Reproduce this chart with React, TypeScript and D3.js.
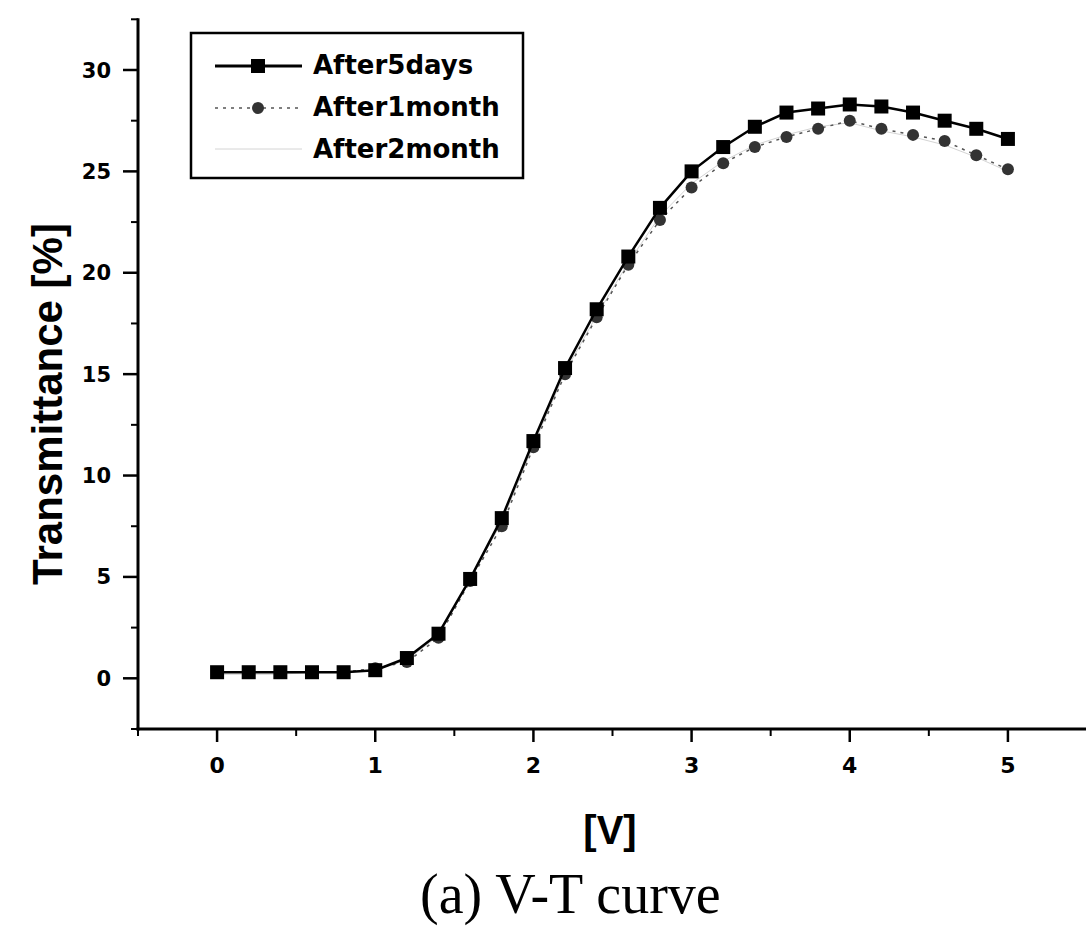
import React from "react";
import * as d3 from "d3";

const voltages = [0, 0.2, 0.4, 0.6, 0.8, 1.0, 1.2, 1.4, 1.6, 1.8, 2.0, 2.2, 2.4, 2.6, 2.8, 3.0, 3.2, 3.4, 3.6, 3.8, 4.0, 4.2, 4.4, 4.6, 4.8, 5.0];
const after5days = [0.3, 0.3, 0.3, 0.3, 0.3, 0.4, 1.0, 2.2, 4.9, 7.9, 11.7, 15.3, 18.2, 20.8, 23.2, 25.0, 26.2, 27.2, 27.9, 28.1, 28.3, 28.2, 27.9, 27.5, 27.1, 26.6];
const after1month = [0.3, 0.3, 0.3, 0.3, 0.3, 0.5, 0.8, 2.0, 4.8, 7.5, 11.4, 15.0, 17.8, 20.4, 22.6, 24.2, 25.4, 26.2, 26.7, 27.1, 27.5, 27.1, 26.8, 26.5, 25.8, 25.1];
const after2month = [0.2, 0.2, 0.2, 0.3, 0.3, 0.4, 0.9, 2.1, 4.9, 7.7, 11.5, 15.1, 17.9, 20.5, 22.8, 24.4, 25.5, 26.3, 26.8, 27.2, 27.4, 27.0, 26.7, 26.3, 25.7, 25.0];
const seriesNames = ["After5days", "After1month", "After2month"];
const xMajorTicks = [0, 1, 2, 3, 4, 5];
const yMajorTicks = [0, 5, 10, 15, 20, 25, 30];
const xDomain = [-0.5, 5.5];
const yDomain = [-2.5, 32.5];

const W = 1086;
const H = 929;
const X0 = 138;
const X1 = 1087;
const Y0 = 729;
const Y1 = 19.3;

export default function App() {
  const x = d3.scaleLinear().domain(xDomain).range([X0, X1]);
  const y = d3.scaleLinear().domain(yDomain).range([Y0, Y1]);
  const line = d3.line<[number, number]>().x((d) => x(d[0])).y((d) => y(d[1]));
  const pts = (vals: number[]) => voltages.map((v, i) => [v, vals[i]] as [number, number]);

  const xMinor = d3.range(xDomain[0], xDomain[1] + 0.001, 0.5).filter((v) => !xMajorTicks.includes(v));
  const yMinor = d3.range(yDomain[0], yDomain[1] + 0.001, 2.5).filter((v) => !yMajorTicks.includes(v));

  const tickFont = "'DejaVu Sans', sans-serif";
  const labelFont = "'Liberation Sans', Arial, sans-serif";

  return (
    <svg width={W} height={H} style={{ position: "absolute", left: 0, top: 0, background: "#fff" }}>
      <rect x={0} y={0} width={W} height={H} fill="#fff" />
      {/* series */}
      <path d={line(pts(after2month)) || ""} fill="none" stroke="#d4d4d4" strokeWidth={1} />
      <path d={line(pts(after1month)) || ""} fill="none" stroke="#555" strokeWidth={1.5} strokeDasharray="3,5" />
      {pts(after1month).map((d, i) => (
        <circle key={"c" + i} cx={x(d[0])} cy={y(d[1])} r={6} fill="#333" />
      ))}
      <path d={line(pts(after5days)) || ""} fill="none" stroke="#000" strokeWidth={2.5} />
      {pts(after5days).map((d, i) => (
        <rect key={"s" + i} x={x(d[0]) - 7} y={y(d[1]) - 7} width={14} height={14} fill="#000" />
      ))}

      {/* axes */}
      <line x1={X0} x2={X0} y1={Y1 - 1} y2={Y0 + 1.5} stroke="#000" strokeWidth={3} />
      <line x1={X0 - 1.5} x2={X1} y1={Y0} y2={Y0} stroke="#000" strokeWidth={3} />
      {yMajorTicks.map((t) => (
        <g key={"ym" + t}>
          <line x1={X0 - 15} x2={X0} y1={y(t)} y2={y(t)} stroke="#000" strokeWidth={2.5} />
          <text x={X0 - 27} y={y(t)} dy="0.36em" textAnchor="end" fontFamily={tickFont} fontWeight="bold" fontSize={21}>
            {t}
          </text>
        </g>
      ))}
      {yMinor.map((t) => (
        <line key={"yn" + t} x1={X0 - 7} x2={X0} y1={y(t)} y2={y(t)} stroke="#000" strokeWidth={2} />
      ))}
      {xMajorTicks.map((t) => (
        <g key={"xm" + t}>
          <line x1={x(t)} x2={x(t)} y1={Y0} y2={Y0 + 13} stroke="#000" strokeWidth={2.5} />
          <text x={x(t)} y={Y0 + 44} textAnchor="middle" fontFamily={tickFont} fontWeight="bold" fontSize={22}>
            {t}
          </text>
        </g>
      ))}
      {xMinor.map((t) => (
        <line key={"xn" + t} x1={x(t)} x2={x(t)} y1={Y0} y2={Y0 + 7} stroke="#000" strokeWidth={2} />
      ))}

      {/* axis titles */}
      <text
        transform={`translate(62,404) rotate(-90)`}
        textAnchor="middle"
        fontFamily={labelFont}
        fontWeight="bold"
        fontSize={42}
      >
        Transmittance [%]
      </text>
      <text x={610} y={844} textAnchor="middle" fontFamily={labelFont} fontWeight="bold" fontSize={40}>
        [V]
      </text>
      <text x={420} y={913} fontFamily="'Liberation Serif', 'Times New Roman', serif" fontSize={56}>
        (a) V-T curve
      </text>

      {/* legend */}
      <rect x={191} y={33} width={332} height={145} fill="#fff" stroke="#000" strokeWidth={2.5} />
      <line x1={215} x2={302} y1={66} y2={66} stroke="#000" strokeWidth={3} />
      <rect x={251} y={59} width={14} height={14} fill="#000" />
      <line x1={215} x2={302} y1={108} y2={108} stroke="#555" strokeWidth={1.5} strokeDasharray="3,5" />
      <circle cx={258} cy={108} r={6} fill="#333" />
      <line x1={215} x2={302} y1={149} y2={149} stroke="#d4d4d4" strokeWidth={1} />
      {seriesNames.map((n, i) => (
        <text key={n} x={313} y={74 + i * 42} fontFamily={tickFont} fontWeight="bold" fontSize={26}>
          {n}
        </text>
      ))}
    </svg>
  );
}
